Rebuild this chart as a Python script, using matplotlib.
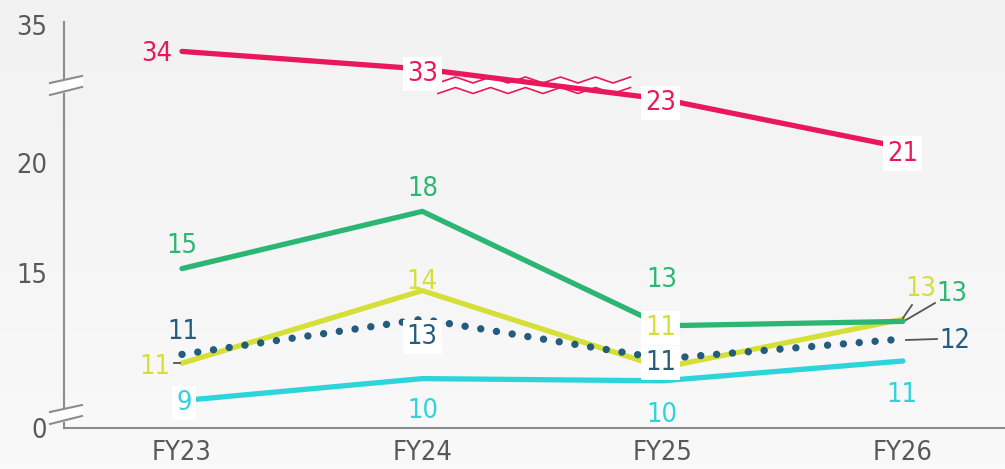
import numpy as np
import matplotlib
matplotlib.use("Agg")
import matplotlib.pyplot as plt
from matplotlib.colors import LinearSegmentedColormap
from matplotlib.lines import Line2D

plt.rcParams['font.family'] = ['DejaVu Sans']
plt.rcParams['font.stretch'] = 'condensed'

years = ['FY23', 'FY24', 'FY25', 'FY26']
red = [33.8, 33.0, 22.9, 20.7]
green = [15.2, 17.8, 12.6, 12.8]
yellow = [10.9, 14.2, 10.7, 12.9]
blue = [11.3, 12.9, 11.1, 12.0]
cyan = [9.2, 10.2, 10.1, 11.0]
yticks = [0, 15, 20, 35]

c_red = '#e8185a'
c_green = '#2bb673'
c_yellow = '#d5df38'
c_blue = '#235c7e'
c_cyan = '#2dd4da'
c_text = '#595959'

# broken axis: squeeze 0..8.6 and 23.5..32.3
kv = [-50, 0, 0.5, 8.6, 23.5, 32.3, 100]
kd = [-42.045, 7.955, 8.0, 8.6, 23.5, 23.57, 91.27]

def fwd(v):
    return np.interp(v, kv, kd)

def inv(d):
    return np.interp(d, kd, kv)

W, H = 1005, 469
fig = plt.figure(figsize=(W / 100, H / 100), dpi=100)

# background gradient
bg = fig.add_axes([0, 0, 1, 1], zorder=-10)
cm = LinearSegmentedColormap.from_list('bg', ['#f2f2f2', '#f9f9f9'])
bg.imshow(np.linspace(0, 1, 100).reshape(-1, 1), aspect='auto', cmap=cm)
bg.axis('off')

ax = fig.add_axes([64 / W, 41 / H, 941 / W, 406.3 / H])
ax.set_facecolor('none')
ax.set_yscale('function', functions=(fwd, inv))
ax.set_ylim(0, 35.15)
ax.set_xlim(-0.491, 3.425)

x = np.arange(len(years))
ax.plot(x, cyan, color=c_cyan, lw=3.8, solid_capstyle='round', zorder=2)
ax.plot(x, yellow, color=c_yellow, lw=3.8, solid_capstyle='round', zorder=3)
ax.plot(x, green, color=c_green, lw=3.8, solid_capstyle='round', zorder=3)
ax.plot(x, blue, color=c_blue, lw=5.3, linestyle=(0, (0.01, 2.15)),
        dash_capstyle='round', zorder=4)
ax.plot(x, red, color=c_red, lw=3.8, solid_capstyle='round', zorder=5)

ax.set_xticks(x)
ax.set_xticklabels(years)
ax.set_yticks(yticks)
ax.set_yticklabels([str(t) for t in yticks])
ax.yaxis.set_minor_locator(matplotlib.ticker.NullLocator())
ax.tick_params(axis='both', length=0, labelsize=19.5, labelcolor=c_text)
ax.tick_params(axis='y', pad=12)
ax.tick_params(axis='x', pad=8.5)
for s in ['top', 'right']:
    ax.spines[s].set_visible(False)
for s in ['left', 'bottom']:
    ax.spines[s].set_color('#8c8c8c')
    ax.spines[s].set_linewidth(1.5)

# value labels: (series, color, [(dx, dy, boxed), ...]) offsets in pixels
labels = [
    (red, c_red, [(-25, -10, False), (0, -12, True), (-2, -11, True), (0, -13, True)]),
    (green, c_green, [(0, 16, False), (1, 15, False), (-1, 39, False), (49, 20, False)]),
    (yellow, c_yellow, [(-27, -11, False), (0, 2, False), (-2, 33, True), (18, 23, False)]),
    (blue, c_blue, [(1, 15, False), (0, -25, True), (-2, -11, True), (52, -9, False)]),
    (cyan, c_cyan, [(2, -9, True), (1, -39, False), (-1, -41, False), (-1, -41, False)]),
]
for vals, col, offs in labels:
    for i, (v, (dx, dy, boxed)) in enumerate(zip(vals, offs)):
        bbox = dict(boxstyle='square,pad=0.15', fc='white', ec='none') if boxed else None
        ax.annotate(str(int(round(v))), xy=(i, v), xytext=(dx, dy),
                    textcoords='offset pixels', ha='center', va='baseline',
                    fontsize=19.5, color=col, bbox=bbox, zorder=8,
                    annotation_clip=False)

def px(xp, yp):
    return np.asarray(xp) / W, 1 - np.asarray(yp) / H

tf = fig.transFigure

# leader lines
for (x1, y1, x2, y2) in [(903, 318, 912, 305), (906, 320, 935, 303),
                          (906, 340, 937, 339), (174, 363, 180, 363)]:
    fx, fy = px([x1, x2], [y1, y2])
    ax.add_line(Line2D(fx, fy, color='#555555', lw=1.3, transform=tf,
                       clip_on=False, zorder=7))

# y-axis break marks
for yc in [89, 418]:
    xs = np.array([50, 82])
    up = np.array([yc - 6, yc - 13])
    lo = np.array([yc + 6, yc - 2])
    fx, fuy = px(xs, up)
    _, fly = px(xs, lo)
    ax.fill_between(fx, fuy, fly, color='white', transform=tf, clip_on=False, zorder=6)
    ax.add_line(Line2D(fx, fuy, color='#8c8c8c', lw=1.5, transform=tf, clip_on=False, zorder=6))
    ax.add_line(Line2D(fx, fly, color='#8c8c8c', lw=1.5, transform=tf, clip_on=False, zorder=6))

# wavy break across the red line
xw = np.arange(438, 648, 17.5)
zig = np.where(np.arange(len(xw)) % 2 == 0, 3, -3)
yu = 80 + zig
yl = 90.5 + zig
fx, fyu = px(xw, yu)
_, fyl = px(xw, yl)
ax.fill_between(fx, fyu, fyl, color='white', transform=tf, zorder=4.5)
ax.add_line(Line2D(fx, fyu, color=c_red, lw=1.2, transform=tf, zorder=5.5))
ax.add_line(Line2D(fx, fyl, color=c_red, lw=1.2, transform=tf, zorder=5.5))

fig.savefig('out.png', dpi=100)
